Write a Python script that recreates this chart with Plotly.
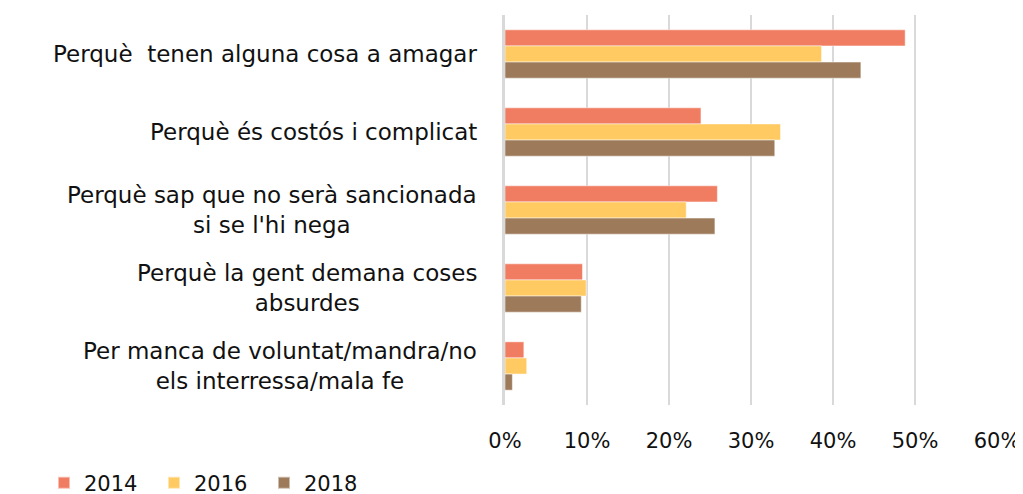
import plotly.graph_objects as go

categories = [
    "Perquè  tenen alguna cosa a amagar",
    "Perquè és costós i complicat",
    "Perquè sap que no serà sancionada<br>si se l'hi nega",
    "Perquè la gent demana coses<br>absurdes",
    "Per manca de voluntat/mandra/no<br>els interressa/mala fe",
]
years = ["2014", "2016", "2018"]
v2014 = [48.8, 23.9, 25.9, 9.45, 2.3]
v2016 = [38.6, 33.6, 22.1, 9.9, 2.65]
v2018 = [43.4, 32.9, 25.6, 9.3, 0.9]
tick_vals = [0, 10, 20, 30, 40, 50, 60]
tick_text = ["0%", "10%", "20%", "30%", "40%", "50%", "60%"]

colors = ["#F07C62", "#FFCA61", "#9C7A5A"]
font_family = "DejaVu Sans, sans-serif"

fig = go.Figure()
for name, vals, col in zip(years, [v2014, v2016, v2018], colors):
    fig.add_trace(go.Bar(
        name=name, y=categories, x=vals, orientation="h",
        marker=dict(color=col, line=dict(color="rgba(255,255,255,0.5)", width=1)),
    ))

for cat in categories:
    fig.add_annotation(
        x=0, xref="paper", xshift=-26, y=cat, yref="y",
        text=cat, showarrow=False, xanchor="right", yanchor="middle",
        align="center", font=dict(size=23, color="#111111", family=font_family),
    )

fig.update_layout(
    width=1023, height=494,
    margin=dict(l=497, r=34, t=7, b=97, autoexpand=False),
    paper_bgcolor="white", plot_bgcolor="white",
    barmode="group", bargap=0.38, bargroupgap=0,
    font=dict(family=font_family, size=21, color="#111111"),
    showlegend=True,
    legend=dict(orientation="h", x=-0.937, xanchor="left", y=-0.2, yanchor="middle",
                font=dict(size=21), itemwidth=30, traceorder="normal",
                entrywidth=65, entrywidthmode="pixels",
                itemsizing="constant"),
    xaxis=dict(range=[0, 60], tickvals=tick_vals, ticktext=tick_text,
               showgrid=True, gridcolor="#D9D9D9", gridwidth=2,
               zeroline=False, showline=False, ticks="", ticklabelstandoff=21),
    yaxis=dict(autorange="reversed", showticklabels=False, showgrid=False,
               showline=True, linecolor="#D9D9D9", linewidth=3, ticks=""),
)

fig.write_html("out.html")
